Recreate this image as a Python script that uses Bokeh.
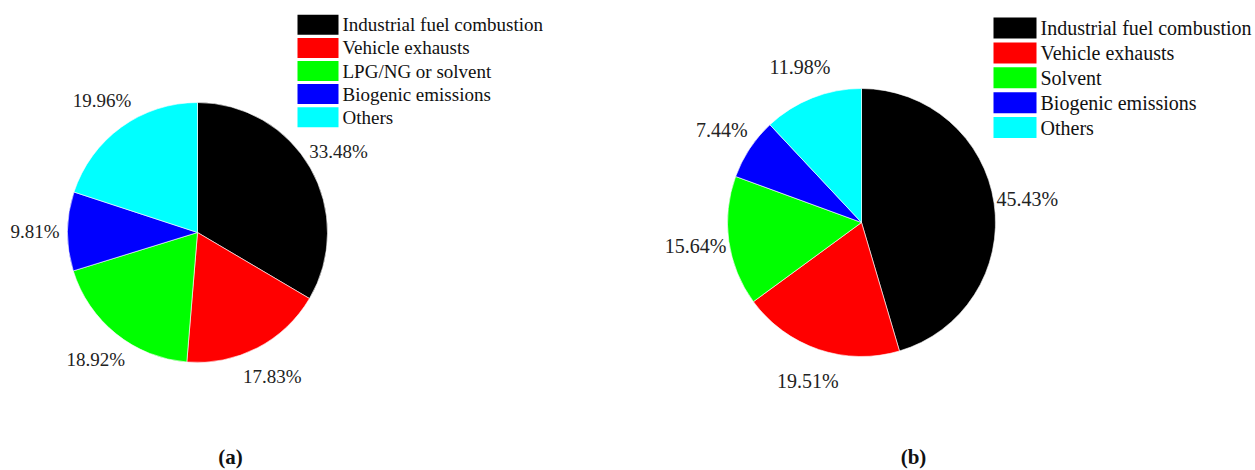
import numpy as np
from bokeh.plotting import figure
from bokeh.models import Range1d, ColumnDataSource
from bokeh.core.properties import value
from bokeh.embed import file_html
from bokeh.resources import INLINE

# Source apportionment results for the two periods
categories_a = ["Industrial fuel combustion", "Vehicle exhausts", "LPG/NG or solvent",
                "Biogenic emissions", "Others"]
shares_a = [33.48, 17.83, 18.92, 9.81, 19.96]

categories_b = ["Industrial fuel combustion", "Vehicle exhausts", "Solvent",
                "Biogenic emissions", "Others"]
shares_b = [45.43, 19.51, 15.64, 7.44, 11.98]

colors = ["#000000", "#FF0000", "#00FF00", "#0000FF", "#00FFFF"]
panel_tags = ["(a)", "(b)"]

W, H = 1255, 470
SERIF = "'Liberation Serif', 'Times New Roman', serif"

p = figure(width=W, height=H, x_range=Range1d(0, W), y_range=Range1d(0, H),
           output_backend="svg", toolbar_location=None, min_border=0,
           x_axis_type=None, y_axis_type=None)
p.grid.visible = False
p.outline_line_color = None
p.background_fill_color = "white"
p.border_fill_color = "white"


def draw_panel(cats, shares, cx, cy, r, label_px, leg_x, leg_y0, leg_dy,
               box_w, box_h, leg_px, tag, tag_x):
    cy = H - cy  # screen-style y to plot y
    vals = np.asarray(shares, dtype=float)
    frac = vals / vals.sum()
    cum = np.concatenate([[0.0], np.cumsum(frac)])
    # clockwise from 12 o'clock
    start = np.pi / 2 - cum[:-1] * 2 * np.pi
    end = np.pi / 2 - cum[1:] * 2 * np.pi
    src = ColumnDataSource(dict(start=start, end=end, color=colors))
    p.wedge(x=cx, y=cy, radius=r, start_angle="start", end_angle="end",
            direction="clock", fill_color="color", line_color="white",
            line_width=0.6, source=src)

    mid = (start + end) / 2
    lr = r * 1.25
    lab = ColumnDataSource(dict(
        x=cx + lr * np.cos(mid), y=cy + lr * np.sin(mid),
        t=[f"{v:.2f}%" for v in shares]))
    p.text(x="x", y="y", text="t", source=lab, text_align="center",
           text_baseline="middle", text_font=value(SERIF),
           text_font_size=value(f"{label_px}px"), text_color="#222222")

    # legend
    idx = np.arange(len(cats))
    ly = H - (leg_y0 + idx * leg_dy)
    leg = ColumnDataSource(dict(x=np.full(len(cats), leg_x + box_w / 2),
                                tx=np.full(len(cats), leg_x + box_w + 4),
                                y=ly, color=colors, name=cats))
    p.rect(x="x", y="y", width=box_w, height=box_h, fill_color="color",
           line_color=None, source=leg)
    p.text(x="tx", y="y", text="name", source=leg, text_align="left",
           text_baseline="middle", text_font=value(SERIF),
           text_font_size=value(f"{leg_px}px"), text_color="#111111")

    p.text(x=[tag_x], y=[H - 456], text=[tag], text_align="center",
           text_baseline="middle", text_font=value(SERIF),
           text_font_style="bold", text_font_size=value("21px"),
           text_color="#111111")


draw_panel(categories_a, shares_a, 197, 232, 130, 19,
           297, 24.3, 23.1, 41, 20, 19, panel_tags[0], 230)
draw_panel(categories_b, shares_b, 861, 222, 134, 20,
           993, 27.5, 24.9, 43, 21, 20, panel_tags[1], 913)

open("out.html", "w").write(file_html(p, INLINE))
